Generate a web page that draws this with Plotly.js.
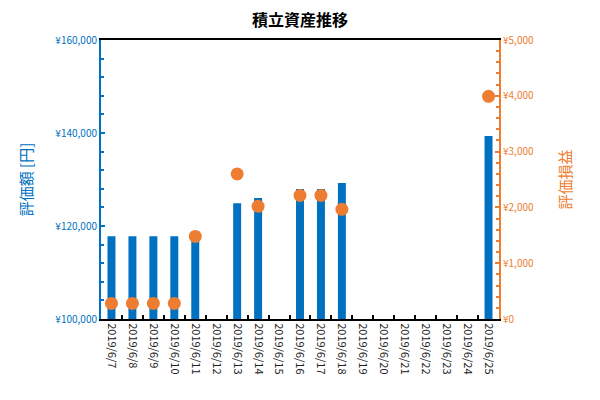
<!DOCTYPE html>
<html>
<head>
<meta charset="utf-8">
<script src="https://cdn.plot.ly/plotly-3.0.1.min.js"></script>
<style>body{margin:0}#chart{width:600px;height:400px}</style>
</head>
<body>
<div id="chart"></div>
<script>
// 日付（カテゴリ）
const dates = ['2019/6/7','2019/6/8','2019/6/9','2019/6/10','2019/6/11','2019/6/12','2019/6/13',
  '2019/6/14','2019/6/15','2019/6/16','2019/6/17','2019/6/18','2019/6/19','2019/6/20',
  '2019/6/21','2019/6/22','2019/6/23','2019/6/24','2019/6/25'];

// 評価額 [円]
const valuation = [117800,117800,117800,117800,118800,null,124900,
  126000,null,127950,127950,129250,null,null,null,null,null,null,139350];

// 評価損益
const profit = [280,280,280,280,1480,null,2600,
  2020,null,2215,2215,1965,null,null,null,null,null,null,3990];

const blue = '#0070C0';
const orange = '#ED7D31';
const font = 'Meiryo, "Noto Sans CJK JP", sans-serif';

Plotly.newPlot('chart', [{
  x: dates,
  y: valuation,
  type: 'bar',
  width: 0.38,
  marker: {color: blue},
  name: '評価額',
}, {
  x: dates,
  y: profit,
  yaxis: 'y2',
  type: 'scatter',
  mode: 'markers',
  marker: {color: orange, size: 13},
  name: '評価損益',
}], {
  width: 600,
  height: 400,
  margin: {l: 101, r: 101, t: 40, b: 81},
  showlegend: false,
  plot_bgcolor: '#fff',
  paper_bgcolor: '#fff',
  font: {family: font},
  title: {text: '<b>積立資産推移</b>', font: {size: 16, color: '#000'}, x: 0.5, y: 0.95, yanchor: 'middle'},
  xaxis: {
    type: 'category',
    range: [-0.5, dates.length - 0.5],
    showgrid: false,
    showline: true,
    linecolor: '#000',
    linewidth: 2,
    mirror: true,
    ticks: 'inside',
    tickson: 'boundaries',
    ticklen: 4,
    tickcolor: '#000',
    tickwidth: 2,
    tickangle: 90,
    tickfont: {size: 11, color: '#222'},
  },
  yaxis: {
    range: [100000, 160000],
    dtick: 20000,
    showgrid: false,
    zeroline: false,
    showline: true,
    linecolor: blue,
    linewidth: 2,
    ticks: 'inside',
    ticklen: 4,
    tickwidth: 2,
    tickcolor: blue,
    tickprefix: '¥',
    tickformat: ',d',
    tickfont: {size: 10, color: blue},
    minor: {dtick: 4000, ticks: 'inside', ticklen: 3, tickcolor: blue, tickwidth: 2},
    title: {text: '評価額 [円]', font: {size: 15, color: blue}, standoff: 19},
  },
  yaxis2: {
    overlaying: 'y',
    side: 'right',
    range: [0, 5000],
    dtick: 1000,
    showgrid: false,
    zeroline: false,
    showline: true,
    linecolor: orange,
    linewidth: 2,
    ticks: 'inside',
    ticklen: 4,
    tickwidth: 2,
    tickcolor: orange,
    tickprefix: '¥',
    tickformat: ',d',
    tickfont: {size: 10, color: orange},
    minor: {dtick: 200, ticks: 'inside', ticklen: 3, tickcolor: orange, tickwidth: 2},
    title: {text: '評価損益', font: {size: 15, color: orange}, standoff: 28},
  },
}, {displayModeBar: false});
</script>
</body>
</html>
